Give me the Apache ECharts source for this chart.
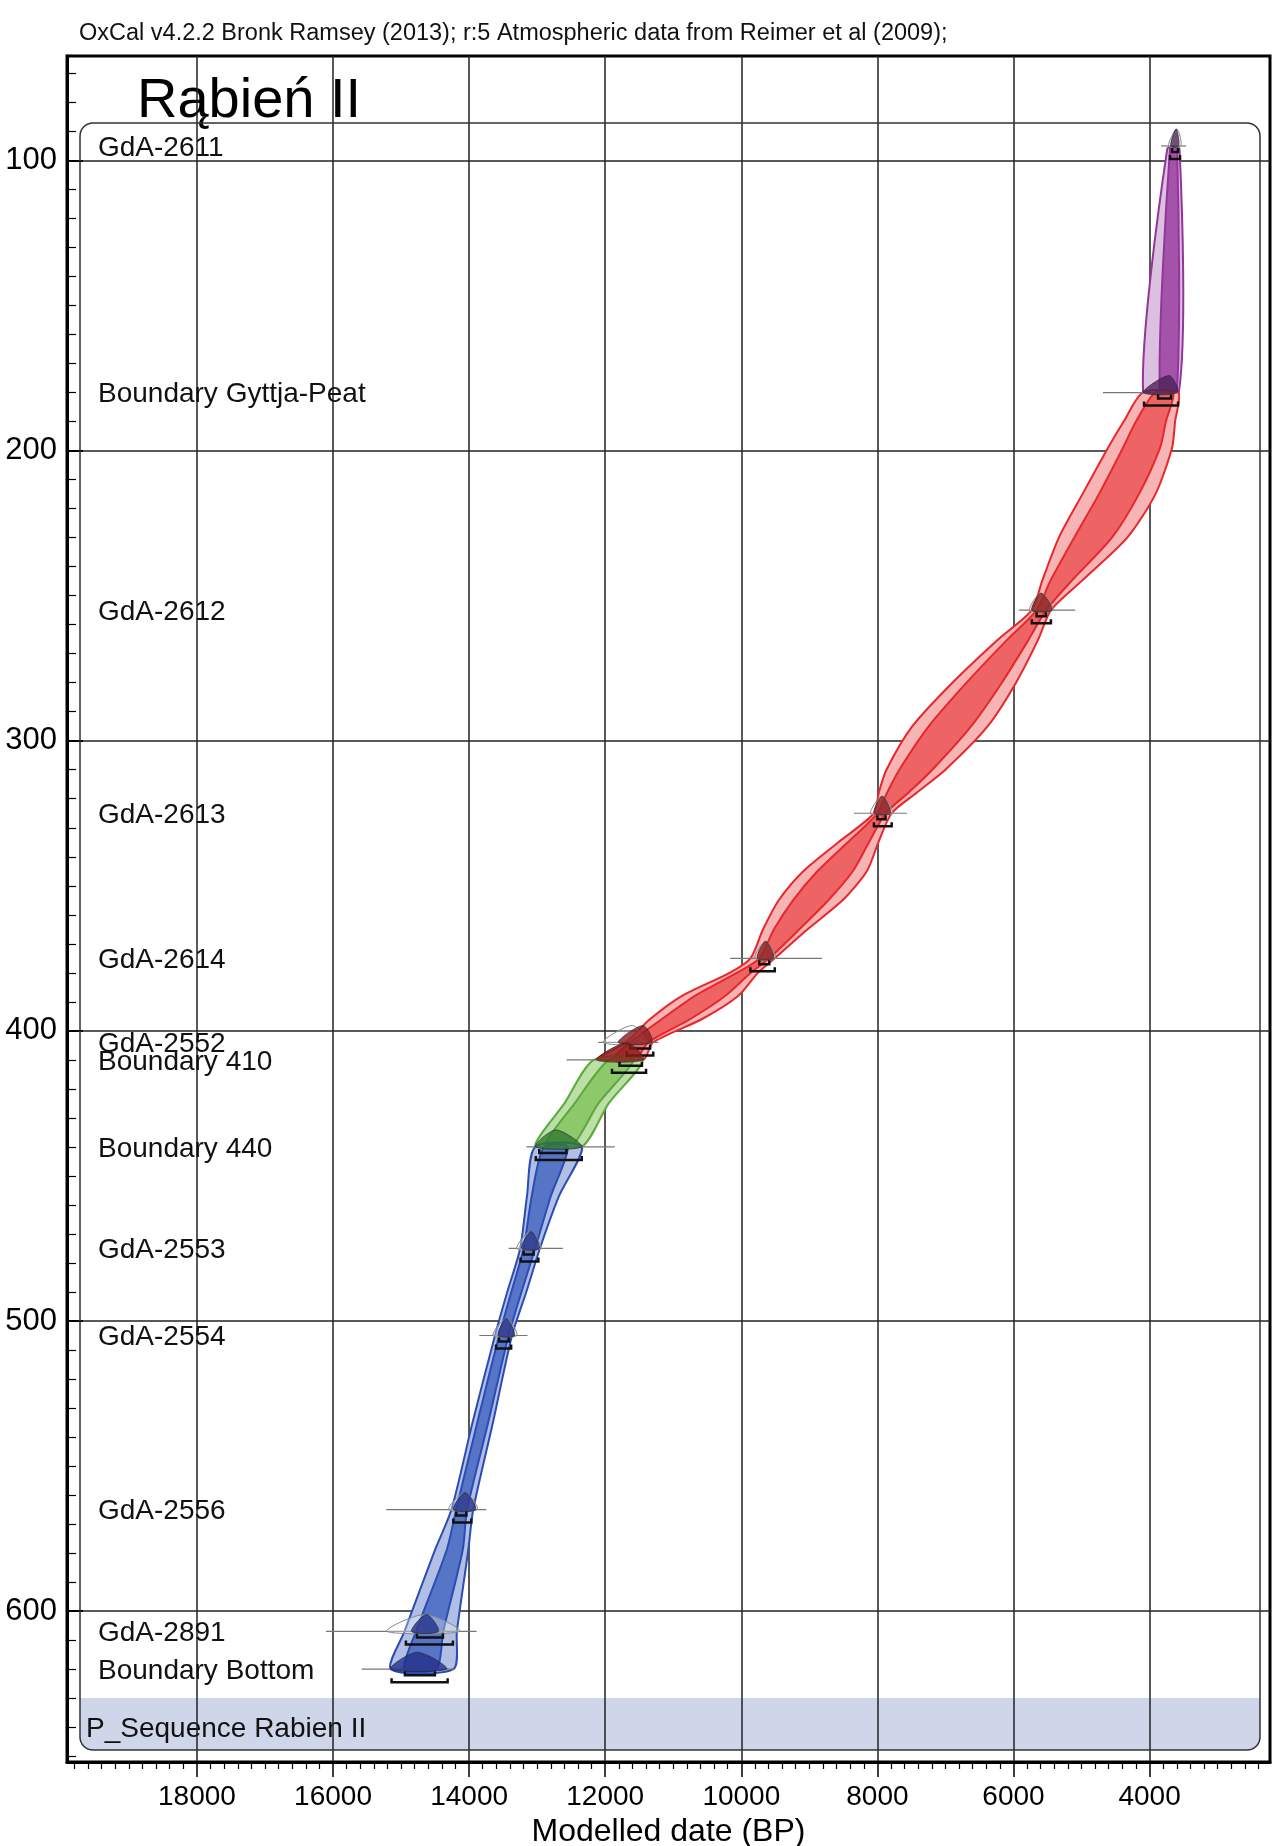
<!DOCTYPE html>
<html>
<head>
<meta charset="utf-8">
<script src="https://cdn.jsdelivr.net/npm/echarts@6/dist/echarts.min.js"></script>
<style>
  html, body { margin: 0; padding: 0; background: #fff; }
  #main { width: 1272px; height: 1846px; }
</style>
</head>
<body>
<div id="main"></div>
<script>
const FONT = '"Liberation Sans", Arial, sans-serif';

// axes (cal BP on x, depth on y)
const xRange = [2230, 19910];
const yRange = [64, 652];
const xMajorTicks = [18000, 16000, 14000, 12000, 10000, 8000, 6000, 4000];
const yMajorTicks = [100, 200, 300, 400, 500, 600];
const xMinorTicks = [];
for (let v = 2400; v <= 19800; v += 200) if (v % 2000) xMinorTicks.push(v);
const yMinorTicks = [];
for (let v = 70; v <= 650; v += 10) if (v % 100) yMinorTicks.push(v);

// age-depth envelope nodes (95% / 68% ranges, cal BP)
const envSeg = ['purple', 'purple',
  'red', 'red', 'red', 'red', 'red', 'red', 'red',
  'red', 'red', 'red', 'red', 'red', 'red',
  'red', 'red', 'red', 'red', 'red',
  'red', 'red', 'red', 'red', 'red',
  'green', 'green', 'green',
  'blue', 'blue', 'blue', 'blue', 'blue', 'blue', 'blue', 'blue', 'blue', 'blue'];
const envDepth = [96, 180,
  180, 190, 199, 215, 230, 245, 255,
  265, 280, 295, 310, 318, 325,
  335, 345, 355, 365, 375,
  380, 388, 396, 404, 410,
  410, 425, 440,
  440, 457, 475, 490, 505, 535, 565, 579, 607, 620];
const env95Old = [3740, 4095,
  4100, 4380, 4610, 4986, 5333, 5580, 5730,
  6222, 6898, 7486, 7867, 7981, 8051,
  8574, 9090, 9450, 9680, 9866,
  10172, 10878, 11344, 11700, 12127,
  12168, 12600, 13030,
  13030, 13150, 13250, 13440, 13620, 13950, 14260, 14503, 14950, 15150];
const env68Old = [3700, 3850,
  3920, 4200, 4390, 4744, 5108, 5460, 5660,
  6084, 6690, 7244, 7677, 7860, 8000,
  8436, 8882, 9240, 9520, 9735,
  10068, 10688, 11171, 11633, 11900,
  11950, 12450, 12900,
  12900, 13080, 13200, 13380, 13560, 13880, 14190, 14331, 14780, 14950];
const env68Young = [3595, 3600,
  3650, 3760, 3845, 4156, 4554, 5150, 5520,
  5773, 6171, 6621, 7192, 7548, 7880,
  8124, 8362, 8721, 9147, 9589,
  9860, 10238, 10755, 11368, 11560,
  11580, 12100, 12500,
  12550, 12800, 13030, 13230, 13420, 13720, 14030, 14095, 14380, 14480];
const env95Young = [3560, 3570,
  3580, 3625, 3669, 3913, 4328, 5000, 5450,
  5634, 5963, 6378, 7001, 7427, 7790,
  7985, 8155, 8513, 9026, 9508,
  9756, 10047, 10582, 11300, 11441,
  11450, 11950, 12345,
  12345, 12680, 12960, 13160, 13370, 13650, 13940, 14013, 14180, 14230];

// samples and boundaries
const sampleNames = ['GdA-2611', 'Boundary Gyttja-Peat', 'GdA-2612', 'GdA-2613', 'GdA-2614', 'GdA-2552',
  'Boundary 410', 'Boundary 440', 'GdA-2553', 'GdA-2554', 'GdA-2556', 'GdA-2891', 'Boundary Bottom'];
const sampleDepth = [95, 180, 255, 325, 375, 404, 410, 440, 475, 505, 565, 607, 620];
const sampleGroup = ['purple', 'purple', 'red', 'red', 'red', 'red', 'red', 'green', 'blue', 'blue', 'blue', 'blue', 'blue'];
const lineFrom = [3831, 4684, 5921, 8345, 10164, 12102, 12568, 13158, 13418, 13850, 15219, 16105, 15580];
const lineTo   = [3463, 3581, 5091, 7566, 8813, 11220, 11441, 11860, 12622, 13142, 13747, 13890, 14209];
const postFrom = [3690, 4095, 5730, 8051, 9765, 11808, 12127, 13020, 13228, 13575, 14232, 14845, 15154];
const postPeak = [3610, 3713, 5595, 7929, 9643, 11445, 11680, 12726, 13090, 13453, 14059, 14625, 14763];
const postTo   = [3570, 3596, 5436, 7809, 9523, 11317, 11441, 12345, 12969, 13332, 13903, 14451, 14331];
const likeFrom = [3720, null, 5760, 8100, 9800, 12032, null, null, 13300, 13650, 14300, 15210, null];
const likePeak = [3600, null, 5600, 7930, 9640, 11600, null, null, 13100, 13450, 14060, 14650, null];
const likeTo   = [3540, null, 5420, 7780, 9500, 11395, null, null, 12950, 13300, 13880, 14140, null];
const r68From  = [3669, 3875, 5660, 8000, 9735, 11633, 11790, 12969, 13199, 13560, 14188, 14767, 14944];
const r68To    = [3581, 3684, 5523, 7880, 9589, 11340, 11460, 12570, 13052, 13414, 14041, 14385, 14503];
const r95From  = [3699, 4081, 5730, 8051, 9866, 11682, 11900, 13020, 13243, 13604, 14232, 14929, 15140];
const r95To    = [3552, 3581, 5450, 7790, 9508, 11294, 11400, 12345, 12983, 13383, 13968, 14238, 14316];

const segNames = ['purple', 'red', 'green', 'blue'];
const segColors = {
  purple: { light: '#dcc0e0', dark: '#a553aa', edge: '#93369b', post: '#4a2358' },
  red:    { light: '#f6b4b4', dark: '#ee6464', edge: '#e8262b', post: '#8a1c1c' },
  green:  { light: '#bcdfa8', dark: '#8dc86b', edge: '#5aaa3a', post: '#2f7a2f' },
  blue:   { light: '#b2bfe4', dark: '#5775c6', edge: '#2b4cb4', post: '#23308a' }
};

function renderEnvelope(params, api) {
  const name = segNames[api.value(2)];
  const idx = [];
  envSeg.forEach((s, i) => { if (s === name) idx.push(i); });
  const rev = idx.slice().reverse();
  const pt = (yr, d) => api.coord([yr, d]);
  const outer = idx.map(i => pt(env95Old[i], envDepth[i])).concat(rev.map(i => pt(env95Young[i], envDepth[i])));
  const inner = idx.map(i => pt(env68Old[i], envDepth[i])).concat(rev.map(i => pt(env68Young[i], envDepth[i])));
  const c = segColors[name];
  return {
    type: 'group',
    children: [
      { type: 'polygon', shape: { points: outer, smooth: 0.25 }, style: { fill: c.light, stroke: c.edge, lineWidth: 2 } },
      { type: 'polygon', shape: { points: inner, smooth: 0.25 }, style: { fill: c.dark, stroke: c.edge, lineWidth: 2 } }
    ]
  };
}

function renderSample(params, api) {
  const i = params.dataIndex;
  const d = sampleDepth[i];
  const c = segColors[sampleGroup[i]];
  const base = api.coord([postPeak[i], d])[1];
  const X = yr => api.coord([yr, d])[0];
  const H = 17;
  const children = [];
  children.push({ type: 'line', shape: { x1: X(lineFrom[i]), y1: base, x2: X(lineTo[i]), y2: base },
    style: { stroke: '#777', lineWidth: 1.2 } });
  if (likePeak[i] != null) {
    children.push({ type: 'polygon',
      shape: { points: [[X(likeFrom[i]), base], [X(likePeak[i]), base - H], [X(likeTo[i]), base]], smooth: 0.3 },
      style: { fill: 'rgba(255,255,255,0.3)', stroke: '#888', lineWidth: 1 } });
  }
  children.push({ type: 'polygon',
    shape: { points: [[X(postFrom[i]), base], [X(postPeak[i]), base - H], [X(postTo[i]), base]], smooth: 0.3 },
    style: { fill: c.post, stroke: '#222', lineWidth: 0.8, opacity: 0.8 } });
  [[r68From, r68To, 6], [r95From, r95To, 13]].forEach(([f, t, off]) => {
    const y = base + off, a = X(f[i]), b = X(t[i]);
    children.push({ type: 'polyline', shape: { points: [[a, y - 4], [a, y], [b, y], [b, y - 4]] },
      style: { stroke: '#111', lineWidth: 2.5, fill: null } });
  });
  children.push({ type: 'text', style: { x: params.coordSys.x + 31, y: base + 2, text: sampleNames[i],
    font: '28px ' + FONT, fill: '#111', verticalAlign: 'middle', align: 'left' } });
  return { type: 'group', children };
}

const chart = echarts.init(document.getElementById('main'), null, { renderer: 'canvas' });

const option = {
  backgroundColor: '#fff',
  animation: false,
  grid: { left: 67, right: 2, top: 56, bottom: 84, show: true, borderColor: '#000', borderWidth: 3,
    containLabel: false, outerBoundsMode: 'none' },
  graphic: [
    { type: 'rect', z: -10, shape: { x: 80, y: 1698, width: 1180, height: 52, r: [0, 0, 12, 12] },
      style: { fill: '#cfd6ea' } },
    { type: 'rect', z: 1, shape: { x: 80, y: 123, width: 1180, height: 1627, r: 13 },
      style: { fill: null, stroke: '#333', lineWidth: 1.5 } },
    { type: 'text', left: 79, top: 22, style: { text: 'OxCal v4.2.2 Bronk Ramsey (2013); r:5 Atmospheric data from Reimer et al (2009);',
      font: '23.5px ' + FONT, fill: '#111' } },
    { type: 'text', left: 137, top: 74, style: { text: 'Rąbień II', font: '56px ' + FONT, fill: '#000' } },
    { type: 'text', left: 86, top: 1715, style: { text: 'P_Sequence Rabien II', font: '28px ' + FONT, fill: '#111' } }
  ],
  xAxis: [
    {
      type: 'value', min: xRange[0], max: xRange[1], inverse: true, position: 'bottom',
      axisLine: { show: true, onZero: false, lineStyle: { color: '#000', width: 3 } },
      axisTick: { show: true, inside: false, length: 15, customValues: xMajorTicks, lineStyle: { color: '#000', width: 1.5 } },
      axisLabel: { customValues: xMajorTicks, formatter: v => String(v), margin: 21, fontSize: 28, fontFamily: FONT, color: '#000' },
      splitLine: { show: true, lineStyle: { color: '#222', width: 1.5 } },
      name: 'Modelled date (BP)', nameLocation: 'middle', nameGap: 54,
      nameTextStyle: { fontSize: 32, fontFamily: FONT, color: '#000' }
    },
    {
      type: 'value', min: xRange[0], max: xRange[1], inverse: true, position: 'bottom', offset: 0,
      axisLine: { show: false },
      axisTick: { show: true, inside: false, length: 7, customValues: xMinorTicks, lineStyle: { color: '#000', width: 1.2 } },
      axisLabel: { show: false },
      splitLine: { show: false }
    }
  ],
  yAxis: [
    {
      type: 'value', min: yRange[0], max: yRange[1], inverse: true, position: 'left',
      axisLine: { show: true, onZero: false, lineStyle: { color: '#000', width: 3 } },
      axisTick: { show: true, inside: true, length: 16, customValues: yMajorTicks, lineStyle: { color: '#000', width: 2 } },
      axisLabel: { customValues: yMajorTicks, formatter: v => String(v), margin: 10, fontSize: 31, fontFamily: FONT, color: '#000' },
      splitLine: { show: true, lineStyle: { color: '#222', width: 1.5 } }
    },
    {
      type: 'value', min: yRange[0], max: yRange[1], inverse: true, position: 'left', offset: 0,
      axisLine: { show: false },
      axisTick: { show: true, inside: true, length: 9, customValues: yMinorTicks, lineStyle: { color: '#000', width: 1.2 } },
      axisLabel: { show: false },
      splitLine: { show: false }
    }
  ],
  series: [
    {
      type: 'custom', name: 'envelope', xAxisIndex: 0, yAxisIndex: 0, z: 2, silent: true,
      renderItem: renderEnvelope,
      data: segNames.map((s, k) => {
        const i = envSeg.indexOf(s);
        return [env95Old[i], envDepth[i], k];
      })
    },
    {
      type: 'custom', name: 'samples', xAxisIndex: 0, yAxisIndex: 0, z: 3, silent: true,
      renderItem: renderSample,
      data: sampleDepth.map((d, i) => [postPeak[i], d])
    }
  ]
};

chart.setOption(option);
</script>
</body>
</html>
